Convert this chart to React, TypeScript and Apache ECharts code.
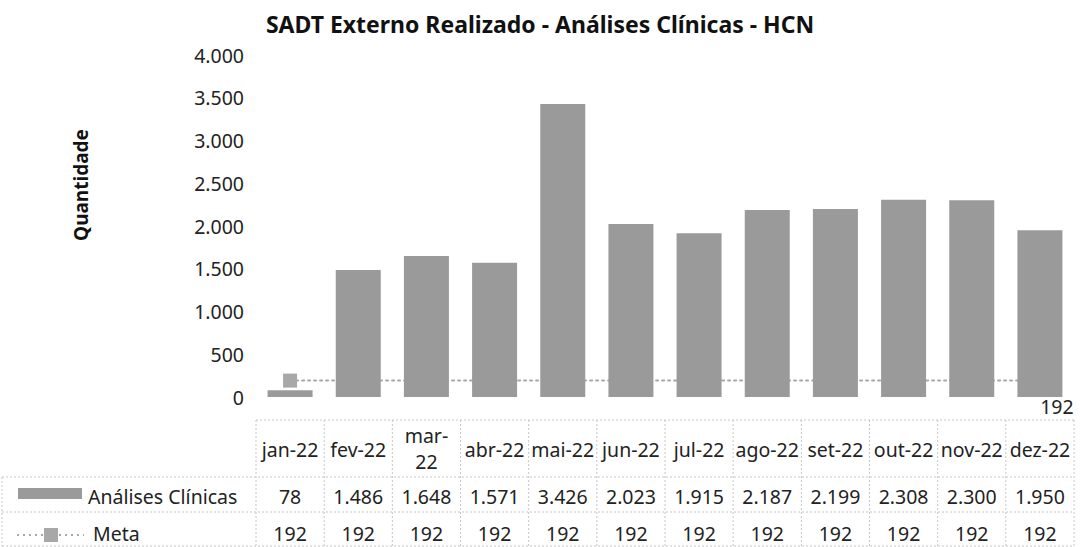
import React, { useEffect, useRef } from 'react';
import * as echarts from 'echarts';

const categories = ['jan-22', 'fev-22', 'mar-22', 'abr-22', 'mai-22', 'jun-22', 'jul-22', 'ago-22', 'set-22', 'out-22', 'nov-22', 'dez-22'];
const analises = [78, 1486, 1648, 1571, 3426, 2023, 1915, 2187, 2199, 2308, 2300, 1950];
const meta = [192, 192, 192, 192, 192, 192, 192, 192, 192, 192, 192, 192];
const seriesNames = ['Análises Clínicas', 'Meta'];
const titleText = 'SADT Externo Realizado - Análises Clínicas - HCN';
const yAxisTitle = 'Quantidade';

const FONT = '"Noto Sans", sans-serif';
const BAR_COLOR = '#9a9a9a';
const META_COLOR = '#a8a8a8';
const GRID_LINE = '#c6c6c6';

const fmt = (v: number) => String(v).replace(/\B(?=(\d{3})+(?!\d))/g, '.');
// header cells that wrap onto two lines in the data table
const headerLines = (c: string) => (c === 'mar-22' ? ['mar-', '22'] : [c]);

export default function App() {
  const ref = useRef<HTMLDivElement>(null);
  useEffect(() => {
    document.body.style.margin = '0';
    if (!ref.current) return;
    const chart = echarts.init(ref.current, undefined, { renderer: 'svg' });
    chart.setOption({
      animation: false,
      backgroundColor: '#ffffff',
      title: {
        text: titleText,
        left: 'center',
        top: 7,
        textStyle: { fontFamily: FONT, fontSize: 23, fontWeight: 'bold', color: '#111' },
      },
      grid: { left: 256, right: 6, top: 55, bottom: 150 },
      xAxis: {
        type: 'category',
        data: categories,
        axisLine: { show: false },
        axisTick: { show: false },
        axisLabel: { show: false },
      },
      yAxis: {
        type: 'value',
        min: 0,
        max: 4000,
        interval: 500,
        axisLine: { show: false },
        axisTick: { show: false },
        splitLine: { show: false },
        axisLabel: {
          margin: 12,
          fontFamily: FONT,
          fontSize: 19.5,
          color: '#222',
          formatter: (v: number) => fmt(v),
        },
      },
      series: [
        {
          name: seriesNames[0],
          type: 'bar',
          data: analises,
          barWidth: 45,
          z: 3,
          itemStyle: { color: BAR_COLOR },
        },
        {
          name: seriesNames[1],
          type: 'line',
          data: meta.map((v, i) =>
            i === meta.length - 1
              ? {
                  value: v,
                  label: {
                    show: true,
                    position: 'bottom',
                    offset: [17, 4],
                    fontFamily: FONT,
                    fontSize: 19.5,
                    color: '#222',
                    formatter: (p: any) => fmt(p.value),
                  },
                }
              : v
          ),
          z: 1,
          symbol: 'rect',
          symbolSize: 14,
          itemStyle: { color: META_COLOR },
          lineStyle: { color: META_COLOR, width: 2, type: [2, 4], cap: 'round' },
        },
      ],
    });

    const x0 = chart.convertToPixel({ xAxisIndex: 0 }, categories[0]) as number;
    const x1 = chart.convertToPixel({ xAxisIndex: 0 }, categories[1]) as number;
    const pitch = x1 - x0;
    const tLeft = x0 - pitch / 2;
    const tRight = x0 + pitch * (categories.length - 0.5);
    const yTop = 420;
    const yH = 477;
    const yR1 = 512;
    const yBot = 546;
    const lineStyle = { stroke: GRID_LINE, lineWidth: 1, lineDash: [2, 2] };
    const els: any[] = [];
    els.push({ type: 'line', shape: { x1: tLeft, y1: yTop, x2: tRight, y2: yTop }, style: lineStyle });
    els.push({ type: 'line', shape: { x1: 2, y1: yH, x2: tRight, y2: yH }, style: lineStyle });
    els.push({ type: 'line', shape: { x1: 2, y1: yR1, x2: tRight, y2: yR1 }, style: lineStyle });
    els.push({ type: 'line', shape: { x1: 2, y1: yBot, x2: tRight, y2: yBot }, style: lineStyle });
    els.push({ type: 'line', shape: { x1: 2, y1: yH, x2: 2, y2: yBot }, style: lineStyle });
    for (let k = 0; k <= categories.length; k++) {
      const x = tLeft + k * pitch;
      els.push({ type: 'line', shape: { x1: x, y1: yTop, x2: x, y2: yBot }, style: lineStyle });
    }
    const textEl = (x: number, y: number, t: string, align = 'center') => ({
      type: 'text',
      x,
      y,
      style: {
        text: t,
        fontFamily: FONT,
        fontSize: 19.5,
        fill: '#222',
        align,
        verticalAlign: 'middle',
        lineHeight: 20,
      },
    });
    categories.forEach((c, i) => {
      const cx = chart.convertToPixel({ xAxisIndex: 0 }, c) as number;
      const lines = headerLines(c);
      if (lines.length === 1) {
        els.push(textEl(cx, 449, lines[0]));
      } else {
        els.push(textEl(cx, 435.5, lines[0]));
        els.push(textEl(cx, 461, lines[1]));
      }
      els.push(textEl(cx, 496, fmt(analises[i])));
      els.push(textEl(cx, 533, fmt(meta[i])));
    });
    // legend keys of the data table
    els.push({ type: 'rect', shape: { x: 18, y: 488, width: 64, height: 11 }, style: { fill: BAR_COLOR } });
    els.push(textEl(88, 496, seriesNames[0], 'left'));
    els.push({
      type: 'line',
      shape: { x1: 17, y1: 535, x2: 84, y2: 535 },
      style: { stroke: META_COLOR, lineWidth: 2, lineDash: [2, 4] },
    });
    els.push({ type: 'rect', shape: { x: 44, y: 528, width: 14, height: 14 }, style: { fill: META_COLOR } });
    els.push(textEl(93, 533, seriesNames[1], 'left'));
    // y axis title
    els.push({
      type: 'text',
      x: 81,
      y: 185,
      rotation: Math.PI / 2,
      style: {
        text: yAxisTitle,
        fontFamily: FONT,
        fontSize: 19,
        fontWeight: 'bold',
        fill: '#111',
        align: 'center',
        verticalAlign: 'middle',
      },
    });
    chart.setOption({ graphic: { elements: els } });

    return () => chart.dispose();
  }, []);
  return <div ref={ref} style={{ width: 1080, height: 547 }} />;
}
